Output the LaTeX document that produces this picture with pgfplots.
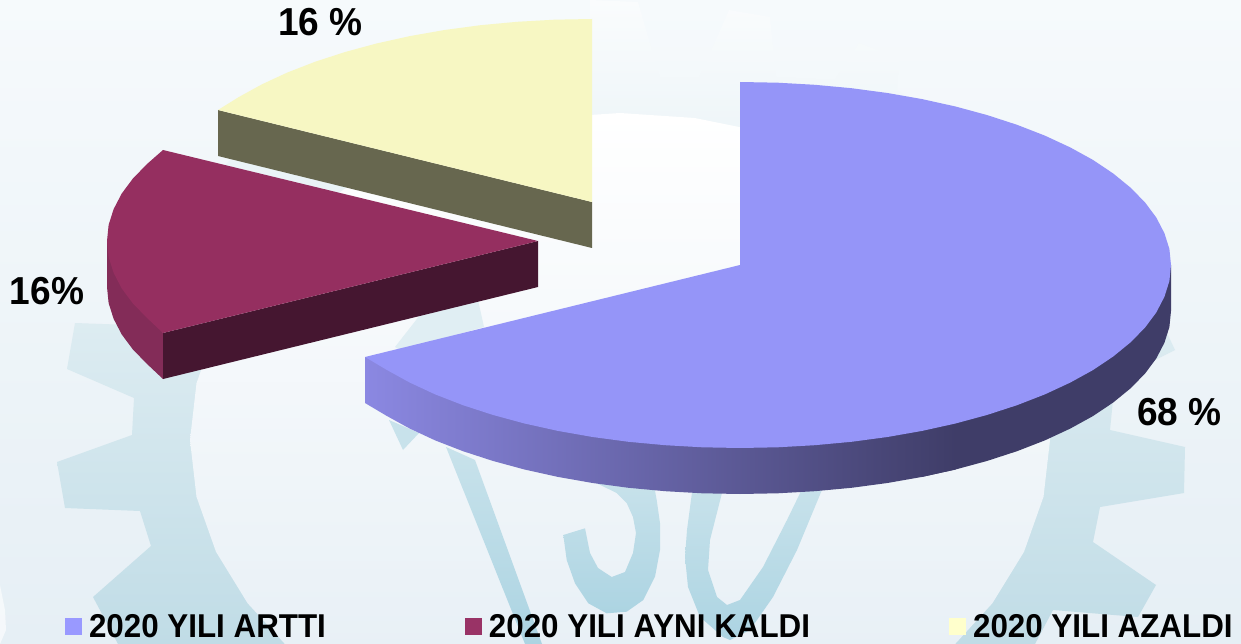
\documentclass[border=0pt]{standalone}
\usepackage{fontspec}
\setmainfont{Liberation Sans}
\newfontfamily\lblfont[FakeStretch=0.95]{Liberation Sans}
\usepackage{pgfplots}
\pgfplotsset{compat=1.18}

\definecolor{bigtop}{HTML}{9595F8}
\definecolor{bigdark}{HTML}{3F3D68}
\definecolor{bigside}{HTML}{8B88E2}
\definecolor{martop}{HTML}{952F60}
\definecolor{marside}{HTML}{832C58}
\definecolor{mardark}{HTML}{451630}
\definecolor{yeltop}{HTML}{F7F7C3}
\definecolor{yelside}{HTML}{67674F}
\definecolor{logotop}{RGB}{200,226,235}
\definecolor{logobot}{RGB}{172,212,226}

\begin{document}
\begin{tikzpicture}
\begin{axis}[
  width=1241pt, height=644pt, scale only axis,
  hide axis,
  xmin=0, xmax=1241, ymin=0, ymax=644, y dir=reverse,
  legend columns=3,
  legend cell align=left,
  legend image code/.code={\fill[#1] (0pt,-8.5pt) rectangle (17pt,8.5pt);},
  legend style={
    at={(axis cs:65,626.5)}, anchor=west,
    draw=none, fill=none, inner sep=0pt, outer sep=0pt,
    font=\lblfont\fontsize{33}{35}\selectfont\bfseries,
    nodes={inner sep=0pt},
    /tikz/column 1/.style={column sep=7pt},
    /tikz/column 2/.style={column sep=139pt},
    /tikz/column 3/.style={column sep=7pt},
    /tikz/column 4/.style={column sep=139pt},
    /tikz/column 5/.style={column sep=7pt},
  },
]
% background and the faint gear / ISO logo behind the pie
\addplot[forget plot, draw=none, top color={rgb,255:red,246;green,250;blue,252}, bottom color={rgb,255:red,230;green,239;blue,245}]
  coordinates {(0,0)(1241,0)(1241,644)(0,644)} -- cycle;
\addplot[forget plot, draw=none, top color={rgb,255:red,250;green,252;blue,253}, middle color={rgb,255:red,226;green,238;blue,243}, bottom color={rgb,255:red,192;green,220;blue,230}]
  coordinates {(75,323)(67,369)(134,398)(132,435)(57,462)(65,508)(140,511)(151,546)(93,597)(118,644)
  (1035,644)(1053,610)(1138,617)(1156,585)(1093,542)(1100,507)(1184,493)(1185,447)(1110,430)(1115,380)
  (1175,350)(1167,333)(1100,280)(1040,210)(960,130)(897,90)(899,58)(859,43)(835,80)(776,77)(770,17)(729,10)
  (699,78)(660,78)(638,2)(590,0)(590,70)(480,90)(440,50)(390,60)(400,110)(300,150)(260,130)(220,170)
  (240,220)(170,280)(130,325)} -- cycle;
\addplot[forget plot, draw=none, top color=white, middle color={rgb,255:red,240;green,246;blue,249}, bottom color={rgb,255:red,232;green,240;blue,246}]
  coordinates {(620,113)(694.7,118)(767,132.7)(835,156.8)(896.4,189.5)(949.4,229.8)(992.4,276.5)(1024,328.2)
  (1043.5,383.2)(1050,440)(1043.5,496.8)(1024,551.8)(992.4,603.2)(949.4,650.2)(290.6,650.2)(247.6,603.2)
  (216,551.8)(196.5,496.8)(190,440)(196.5,383.2)(216,328.2)(247.6,276.5)(290.6,229.8)(343.6,189.5)
  (405,156.8)(473,132.7)(545.3,118)} -- cycle;
% letters I, S, O
\addplot[forget plot, draw=none, top color=logotop, bottom color=logobot]
  coordinates {(446,447)(475,460)(542,644)(525,644)} -- cycle;
\addplot[forget plot, draw=none, fill=logotop]
  coordinates {(389,420)(403,450)(419,433)} -- cycle;
\addplot[forget plot, draw=none, fill={rgb,255:red,224;green,238;blue,243}]
  coordinates {(395,347)(420,315)(478,300)(484,327)(400,350)} -- cycle;
\addplot[forget plot, draw=none, top color=logotop, bottom color=logobot]
  coordinates {(585,528.3)(563.3,535)(566.7,560)(575,583.3)(588.3,603.3)(606.7,613.3)(626.7,611.7)(643.3,600)
  (655,576.7)(660,550)(660,523.3)(656.7,500)(653,480)(590,480)(616.7,493)(626.7,503)(633,517)(636,533)(633,553)
  (625,572)(611.7,577)(598,568)(590,553)} -- cycle;
\addplot[forget plot, draw=none, top color=logotop, bottom color=logobot]
  coordinates {(693,485)(687,530)(685,557)(688,587)(700,617)(723,637)(730,640)(750,630)(773,597)(797,550)(824,485)
  (804,485)(787,520)(763,567)(740,600)(727,605)(717,597)(708,570)(710,540)(724,485)} -- cycle;
\addplot[forget plot, draw=none, fill=white, fill opacity=0.6]
  coordinates {(0,585)(5,610)(6,630)(0,644)} -- cycle;

% big slice: side wall first, then the top
\addplot[forget plot, draw=none, fill=bigdark]
  coordinates {(1171,265)(1171,311)(1169.4,327)(1164.4,342.8)(1156.3,358.4)(1145,373.6)(1130.6,388.3)(1113.2,402.5)
  (1093.1,416)(1070.2,428.6)(1044.8,440.4)(1017,451.2)(987.2,460.9)(955.5,469.5)(922.1,476.9)(922.1,400)} -- cycle;
\addplot[forget plot, draw=none, left color=bigside, right color=bigdark]
  coordinates {(955.5,400)(955.5,469.5)(922.1,476.9)(887.4,483)(851.5,487.8)(814.8,491.2)(777.6,493.3)(740,494)
  (702.4,493.3)(665.2,491.2)(628.5,487.8)(592.6,483)(557.9,476.9)(524.5,469.5)(492.8,460.9)(463,451.2)
  (435.2,440.4)(409.8,428.6)(386.9,416)(365,403)(365,357)} -- cycle;
\addplot[draw=none, fill=bigtop, legend image post style={fill={rgb,255:red,153;green,153;blue,255}}]
  coordinates {(740,82)(777.6,82.7)(814.8,84.8)(851.5,88.2)(887.4,93)(922.1,99.1)(955.5,106.5)(987.2,115.1)
  (1017,124.8)(1044.8,135.6)(1070.2,147.4)(1093.1,160)(1113.2,173.5)(1130.6,187.7)(1145,202.4)(1156.3,217.6)
  (1164.4,233.2)(1169.4,249)(1171,265)(1169.4,281)(1164.4,296.8)(1156.3,312.4)(1145,327.6)(1130.6,342.3)
  (1113.2,356.5)(1093.1,370)(1070.2,382.6)(1044.8,394.4)(1017,405.2)(987.2,414.9)(955.5,423.5)(922.1,430.9)
  (887.4,437)(851.5,441.8)(814.8,445.2)(777.6,447.3)(740,448)(702.4,447.3)(665.2,445.2)(628.5,441.8)
  (592.6,437)(557.9,430.9)(524.5,423.5)(492.8,414.9)(463,405.2)(435.2,394.4)(409.8,382.6)(386.9,370)
  (365,357)(740,265)} -- cycle;
\addlegendentry{2020 YILI ARTTI}

% maroon slice
\addplot[forget plot, draw=none, fill=marside]
  coordinates {(163,333)(163,379)(147.4,364.3)(133,349.6)(121.7,334.4)(113.6,318.8)(108.6,303)(107,287)(107,241)} -- cycle;
\addplot[forget plot, draw=none, fill=mardark]
  coordinates {(163,333)(538,241)(538,287)(163,379)} -- cycle;
\addplot[draw=none, fill=martop, legend image post style={fill={rgb,255:red,153;green,51;blue,102}}]
  coordinates {(538,241)(163,333)(147.4,318.3)(133,303.6)(121.7,288.4)(113.6,272.8)(108.6,257)(107,241)
  (108.6,225)(113.6,209.2)(121.7,193.6)(133,178.4)(147.4,163.7)(163,150)} -- cycle;
\addlegendentry{2020 YILI AYNI KALDI}

% yellow slice
\addplot[forget plot, draw=none, fill=yelside]
  coordinates {(218,110)(592,202)(592,248)(218,156)} -- cycle;
\addplot[draw=none, fill=yeltop, legend image post style={fill={rgb,255:red,255;green,255;blue,204}}]
  coordinates {(592,202)(218,110)(238.9,97)(261.8,84.4)(287.2,72.6)(315,61.8)(344.8,52.1)(376.5,43.5)(409.9,36.1)
  (444.6,30)(480.5,25.2)(517.2,21.8)(554.4,19.7)(592,19)} -- cycle;
\addlegendentry{2020 YILI AZALDI}

\node[font=\lblfont\fontsize{39}{41}\selectfont\bfseries] at (axis cs:1179.5,412) {68 \%};
\node[font=\lblfont\fontsize{39}{41}\selectfont\bfseries] at (axis cs:320.5,22) {16 \%};
\node[font=\lblfont\fontsize{39}{41}\selectfont\bfseries] at (axis cs:47,291) {16\%};
\end{axis}
\end{tikzpicture}
\end{document}
